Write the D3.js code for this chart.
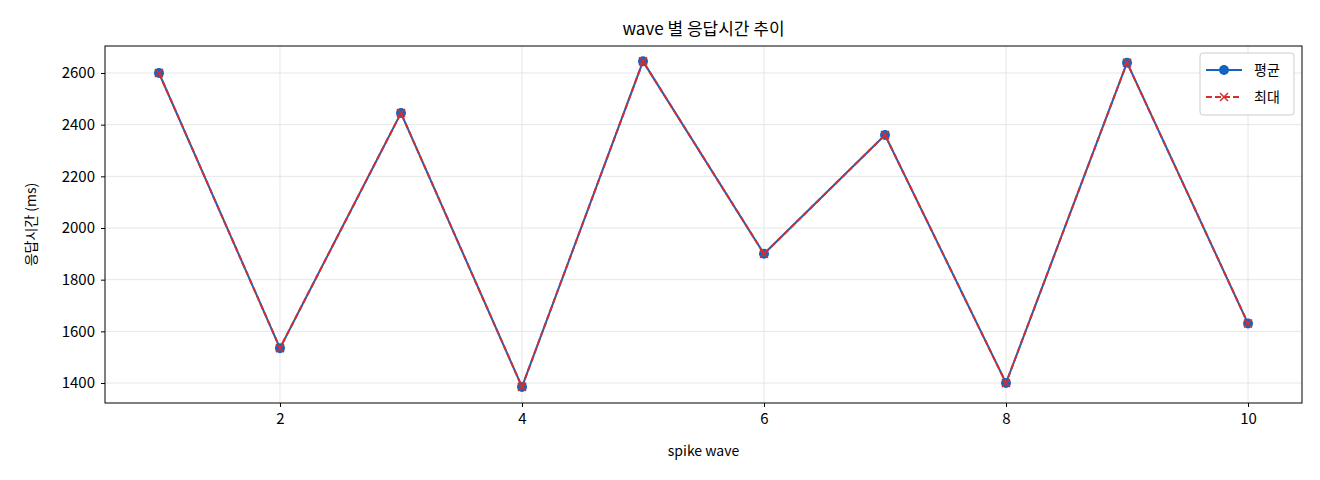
<!DOCTYPE html>
<html><head><meta charset="utf-8">
<script src="https://cdn.jsdelivr.net/npm/d3@7"></script>
<style>body{margin:0;background:#fff}text{font-family:"Noto Sans CJK KR","DejaVu Sans",sans-serif}</style>
</head><body><div id="chart"></div>
<script>
var waves = [1, 2, 3, 4, 5, 6, 7, 8, 9, 10]
var avgMs = [2600, 1535, 2445, 1385, 2645, 1900, 2360, 1400, 2640, 1630]
var maxMs = [2600, 1535, 2445, 1385, 2645, 1900, 2360, 1400, 2640, 1630]
var xTicks = [2, 4, 6, 8, 10]
var yTicks = [1400, 1600, 1800, 2000, 2200, 2400, 2600]

var W = 1320, H = 480
var m = {l: 105, r: 18, t: 46, b: 77}
var svg = d3.select('#chart').append('svg').attr('width', W).attr('height', H)
var x = d3.scaleLinear().domain([0.554, 10.446]).range([m.l, W - m.r])
var y = d3.scaleLinear().domain([1322.6, 2704.5]).range([H - m.b, m.t])

// grid
svg.append('g').selectAll('line').data(xTicks).join('line')
  .attr('x1', d => x(d)).attr('x2', d => x(d)).attr('y1', m.t).attr('y2', H - m.b)
  .attr('stroke', '#e6e6e6')
svg.append('g').selectAll('line').data(yTicks).join('line')
  .attr('x1', m.l).attr('x2', W - m.r).attr('y1', d => y(d)).attr('y2', d => y(d))
  .attr('stroke', '#e6e6e6')

var gx = svg.append('g').attr('transform', 'translate(0,' + (H - m.b) + ')')
  .call(d3.axisBottom(x).tickValues(xTicks).tickFormat(d3.format('d')).tickSize(4).tickPadding(6))
var gy = svg.append('g').attr('transform', 'translate(' + m.l + ',0)')
  .call(d3.axisLeft(y).tickValues(yTicks).tickFormat(d3.format('d')).tickSize(4).tickPadding(6))
;[gx, gy].forEach(g => {
  g.select('.domain').remove()
  g.selectAll('text').style('font-size', '15px').attr('fill', '#000')
})
svg.append('rect').attr('x', m.l).attr('y', m.t).attr('width', W - m.r - m.l).attr('height', H - m.b - m.t)
  .attr('fill', 'none').attr('stroke', '#000')

svg.append('text').attr('x', (m.l + W - m.r) / 2).attr('y', 35).attr('text-anchor', 'middle')
  .style('font-size', '17px').text('wave 별 응답시간 추이')
svg.append('text').attr('x', (m.l + W - m.r) / 2).attr('y', 456).attr('text-anchor', 'middle')
  .style('font-size', '14px').text('spike wave')
svg.append('text').attr('transform', 'translate(36,' + ((m.t + H - m.b) / 2) + ') rotate(-90)')
  .attr('text-anchor', 'middle').style('font-size', '14px').text('응답시간 (ms)')

var line = d3.line().x((d, i) => x(waves[i])).y(d => y(d))
svg.append('path').datum(avgMs).attr('d', line).attr('fill', 'none').attr('stroke', '#1565c0').attr('stroke-width', 2)
svg.append('g').selectAll('circle').data(avgMs).join('circle')
  .attr('cx', (d, i) => x(waves[i])).attr('cy', d => y(d)).attr('r', 5).attr('fill', '#1565c0')
svg.append('path').datum(maxMs).attr('d', line).attr('fill', 'none').attr('stroke', '#d32f2f')
  .attr('stroke-width', 2).attr('stroke-dasharray', '6,3')
var cross = (g, cx, cy) => g.append('path')
  .attr('d', 'M' + (cx - 4) + ',' + (cy - 4) + 'L' + (cx + 4) + ',' + (cy + 4) + 'M' + (cx - 4) + ',' + (cy + 4) + 'L' + (cx + 4) + ',' + (cy - 4))
  .attr('stroke', '#d32f2f').attr('stroke-width', 1.5)
var gc = svg.append('g')
maxMs.forEach((d, i) => cross(gc, x(waves[i]), y(d)))

// legend
var lg = svg.append('g').attr('transform', 'translate(1200,53)')
lg.append('rect').attr('width', 94).attr('height', 62).attr('rx', 3).attr('fill', '#fff').attr('stroke', '#ccc')
lg.append('line').attr('x1', 6).attr('x2', 42).attr('y1', 17).attr('y2', 17).attr('stroke', '#1565c0').attr('stroke-width', 2)
lg.append('circle').attr('cx', 24).attr('cy', 17).attr('r', 5).attr('fill', '#1565c0')
lg.append('line').attr('x1', 6).attr('x2', 42).attr('y1', 44).attr('y2', 44).attr('stroke', '#d32f2f').attr('stroke-width', 2).attr('stroke-dasharray', '6,3')
cross(lg, 24, 44)
lg.append('text').attr('x', 54).attr('y', 22).style('font-size', '14px').text('평균')
lg.append('text').attr('x', 54).attr('y', 49).style('font-size', '14px').text('최대')
</script></body></html>
